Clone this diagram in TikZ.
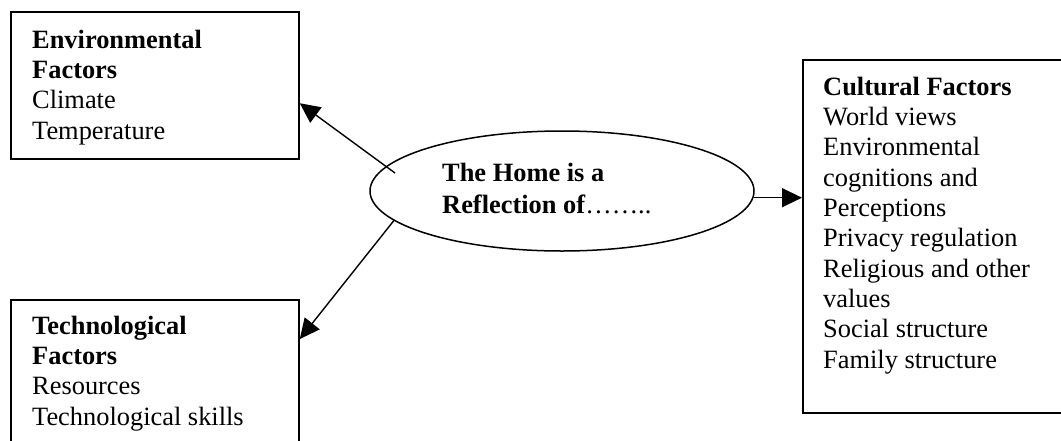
\documentclass[tikz,border=0pt]{standalone}
\usepackage{fontspec}
\setmainfont{Liberation Serif}
\usetikzlibrary{shapes.geometric,arrows.meta,calc}
\begin{document}
\begin{tikzpicture}[x=1pt,y=-1pt,
  box/.style={draw,line width=1.8pt,inner sep=0pt,anchor=north west},
  txt/.style={anchor=base west,align=left,inner sep=0pt,font=\fontsize{26.4}{30.3}\selectfont},
  conn/.style={line width=1.4pt,-{Triangle[length=20pt,width=19pt]}}]
\useasboundingbox (0,0) rectangle (1061,440);
\clip (0,0) rectangle (1061,440);
% boxes
\node[box,minimum width=288pt,minimum height=147pt] (env) at (10,11) {};
\node[box,minimum width=288pt,minimum height=200pt] (tech) at (10,299) {};
\node[box,minimum width=300pt,minimum height=353pt] (cul) at (802,59) {};
\node[draw,ellipse,line width=1.5pt,minimum width=384pt,minimum height=120pt,inner sep=0pt] (ell) at (562,191) {};
% texts (anchored at the baseline of their last line)
\node[txt] (envt) at (32,139) {\textbf{Environmental}\\\textbf{Factors}\\Climate\\Temperature};
\node[txt] (techt) at (32,425) {\textbf{Technological}\\\textbf{Factors}\\Resources\\Technological skills};
\node[txt] (cult) at (823,368) {\textbf{Cultural Factors}\\World views\\Environmental\\cognitions and\\Perceptions\\Privacy regulation\\Religious and other\\values\\Social structure\\Family structure};
\node[txt,font=\fontsize{26.4}{32}\selectfont] (ellt) at (442,213) {\textbf{The Home is a}\\\textbf{Reflection of}……..};
% connectors
\coordinate (s1) at (395,173);
\draw[conn] (s1) -- ($(env.north east)!0.62!(env.south east)$);
\draw[conn] (ell.190) -- ($(tech.north east)+(0,40)$);
\draw[conn] (ell.358) -- (ell.358 -| cul.west);
\end{tikzpicture}
\end{document}
